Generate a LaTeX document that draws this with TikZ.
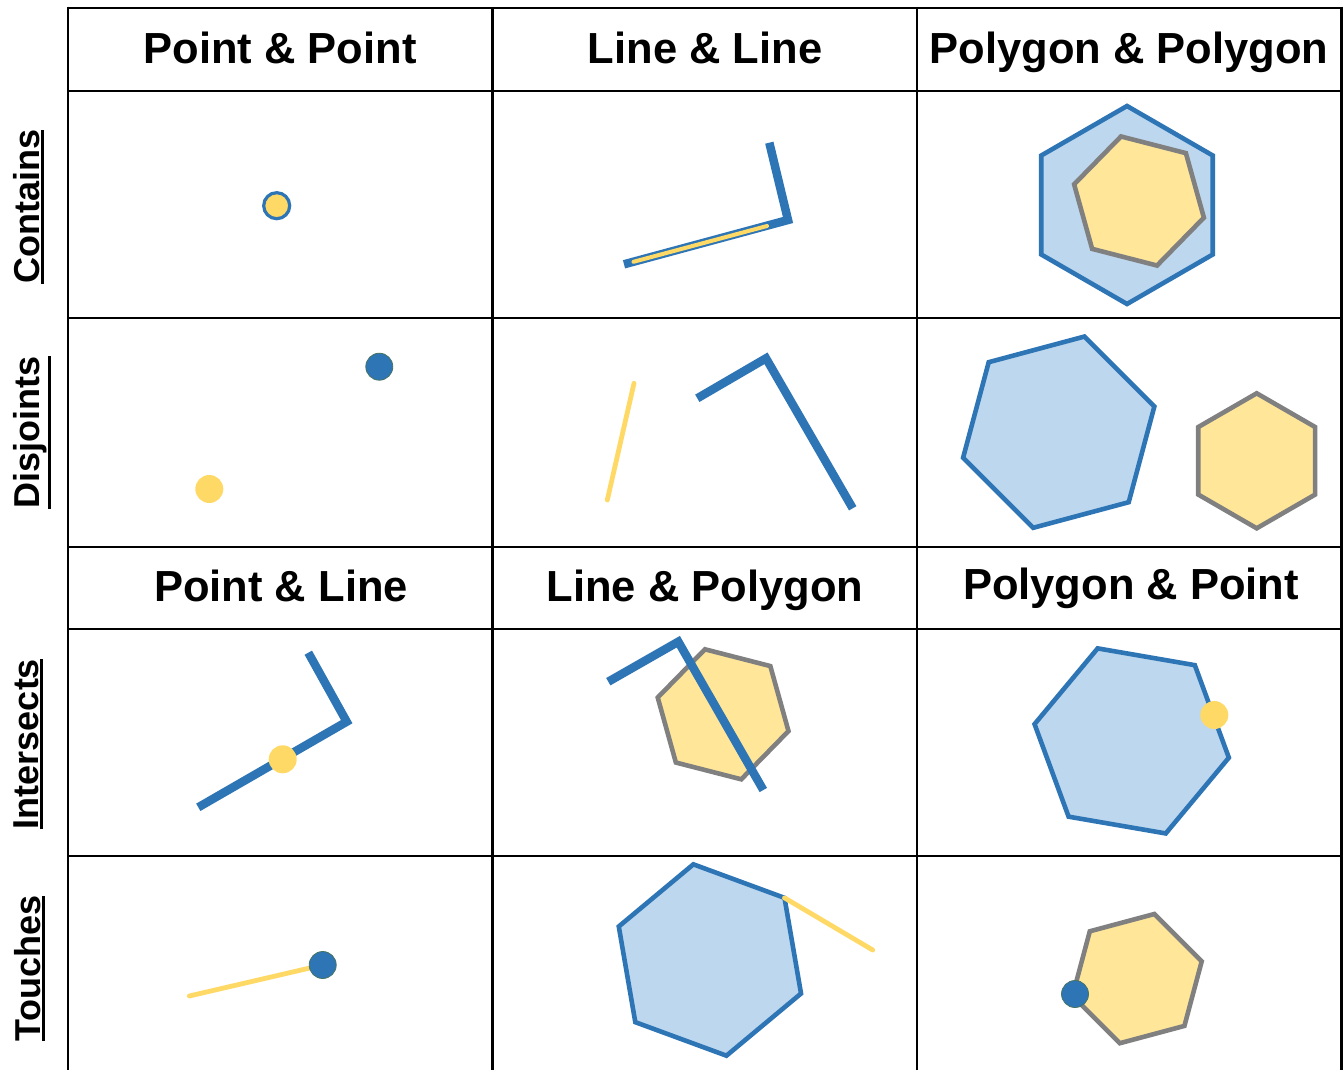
\documentclass[tikz,border=0pt]{standalone}
\usepackage{fontspec}
\setmainfont{Liberation Sans}
\usetikzlibrary{calc}
\definecolor{lineblue}{RGB}{46,117,182}
\definecolor{fillblue}{RGB}{189,215,238}
\definecolor{ptyellow}{RGB}{255,217,102}
\definecolor{fillyellow}{RGB}{255,230,153}
\definecolor{edgegray}{RGB}{128,128,128}
\definecolor{dotedge}{RGB}{70,115,100}
\newcommand\ulword[1]{\setbox0\hbox{#1}\vtop{\copy0\kern1.5pt\hrule height 3pt}}
\newcommand\hexa[4]{\draw[#1] ($(#2)+(#4:#3)$) -- ($(#2)+(#4+60:#3)$) -- ($(#2)+(#4+120:#3)$) -- ($(#2)+(#4+180:#3)$) -- ($(#2)+(#4+240:#3)$) -- ($(#2)+(#4+300:#3)$) -- cycle;}
\tikzset{
  gridline/.style={draw=black, line width=2.6pt},
  hdr/.style={font=\fontsize{43.5}{50}\selectfont\bfseries, inner sep=0pt, anchor=base},
  rowlab/.style={font=\fontsize{36}{42}\selectfont\bfseries, inner sep=0pt, anchor=base, rotate=90},
  bline/.style={draw=lineblue, line width=8.5pt, line join=miter, line cap=butt},
  yline/.style={draw=ptyellow, line width=4.8pt, line cap=round},
  yinner/.style={draw=ptyellow, line width=4pt, line cap=round},
  bpoly/.style={draw=lineblue, fill=fillblue, line width=4.6pt, line join=miter},
  ypoly/.style={draw=edgegray, fill=fillyellow, line width=4.6pt, line join=miter},
  bdot/.style={circle, fill=lineblue, draw=dotedge, line width=0.8pt, minimum size=27pt, inner sep=0pt},
  ydot/.style={circle, fill=ptyellow, minimum size=28pt, inner sep=0pt},
  cdot/.style={circle, fill=ptyellow, draw=lineblue, line width=3.2pt, minimum size=26pt, inner sep=0pt}
}
\begin{document}
\begin{tikzpicture}[x=1pt,y=-1pt]
\useasboundingbox (0,0) rectangle (1343,1070);
\fill[white] (0,0) rectangle (1343,1070);

% ---------- row 1: Contains ----------
\node[cdot] (c11) at (276.7,205.7) {};
\draw[bline] (624,264.3) -- (788,220) -- (769.3,142.7);
\draw[yinner] (633.5,261.8) -- (767,226);
\hexa{bpoly}{1127,205}{99}{30}
\hexa{ypoly}{1139,201}{67}{14.4}

% ---------- row 2: Disjoints ----------
\node[bdot] (d21b) at (379.3,366.7) {};
\node[ydot] (d21y) at (209.3,489) {};
\draw[yline] (634,383.3) -- (607.3,500);
\draw[bline] (697.3,398.3) -- (766,358.3) -- (852.7,508.3);
\hexa{bpoly}{1058.7,432.2}{99}{45}
\hexa{ypoly}{1256.7,460.8}{67.5}{30}

% ---------- row 3: Intersects ----------
\draw[bline] (198.3,807.3) -- (346.7,721.7) -- (308.3,652.7);
\node[ydot] (d31) at (282.7,759.3) {};
\hexa{ypoly}{723.1,714.3}{67.5}{14.4}
\draw[bline] (608.3,681.7) -- (678.3,641.7) -- (763.3,790);
\hexa{bpoly}{1131.7,740.9}{98.6}{9.8}
\node[ydot] (d33) at (1214.3,715) {};

% ---------- row 4: Touches ----------
\coordinate (l41) at (189.3,996);
\coordinate (p41) at (322.7,965);
\draw[yline] (l41) -- (p41);
\node[bdot] (d41) at (p41) {};
\hexa{bpoly}{709.9,960}{97.1}{20.2}
\coordinate (v42) at ($(709.9,960)+(20.2+300:97.1)$);
\coordinate (e42) at (872.7,950);
\draw[yline] (v42) -- (e42);
\hexa{ypoly}{1137.1,978.6}{66.9}{45}
\node[bdot] (d43) at (1075,994) {};

% ---------- grid ----------
\foreach \yy in {8,91,318,547,629,856}
  \draw[gridline] (68,\yy) -- (1341.5,\yy);
\foreach \xx in {68,492.5,917,1341.5}
  \draw[gridline] (\xx,6.7) -- (\xx,1070);

% ---------- headers ----------
\node[hdr] (h1) at (280,64) {Point \& Point};
\node[hdr] (h2) at (705,64) {Line \& Line};
\node[hdr] (h3) at (1129,64) {Polygon \& Polygon};
\node[hdr] (h4) at (281,601) {Point \& Line};
\node[hdr] (h5) at (705,601) {Line \& Polygon};
\node[hdr] (h6) at (1131,599) {Polygon \& Point};

% ---------- row labels ----------
\node[rowlab] (r1) at (39,206.5) {\ulword{Contains}};
\node[rowlab] (r2) at (39,432.5) {\ulword{Disjoints}};
\node[rowlab] (r3) at (38,744) {\ulword{Intersects}};
\node[rowlab] (r4) at (40,968.5) {\ulword{Touches}};
\end{tikzpicture}
\end{document}
